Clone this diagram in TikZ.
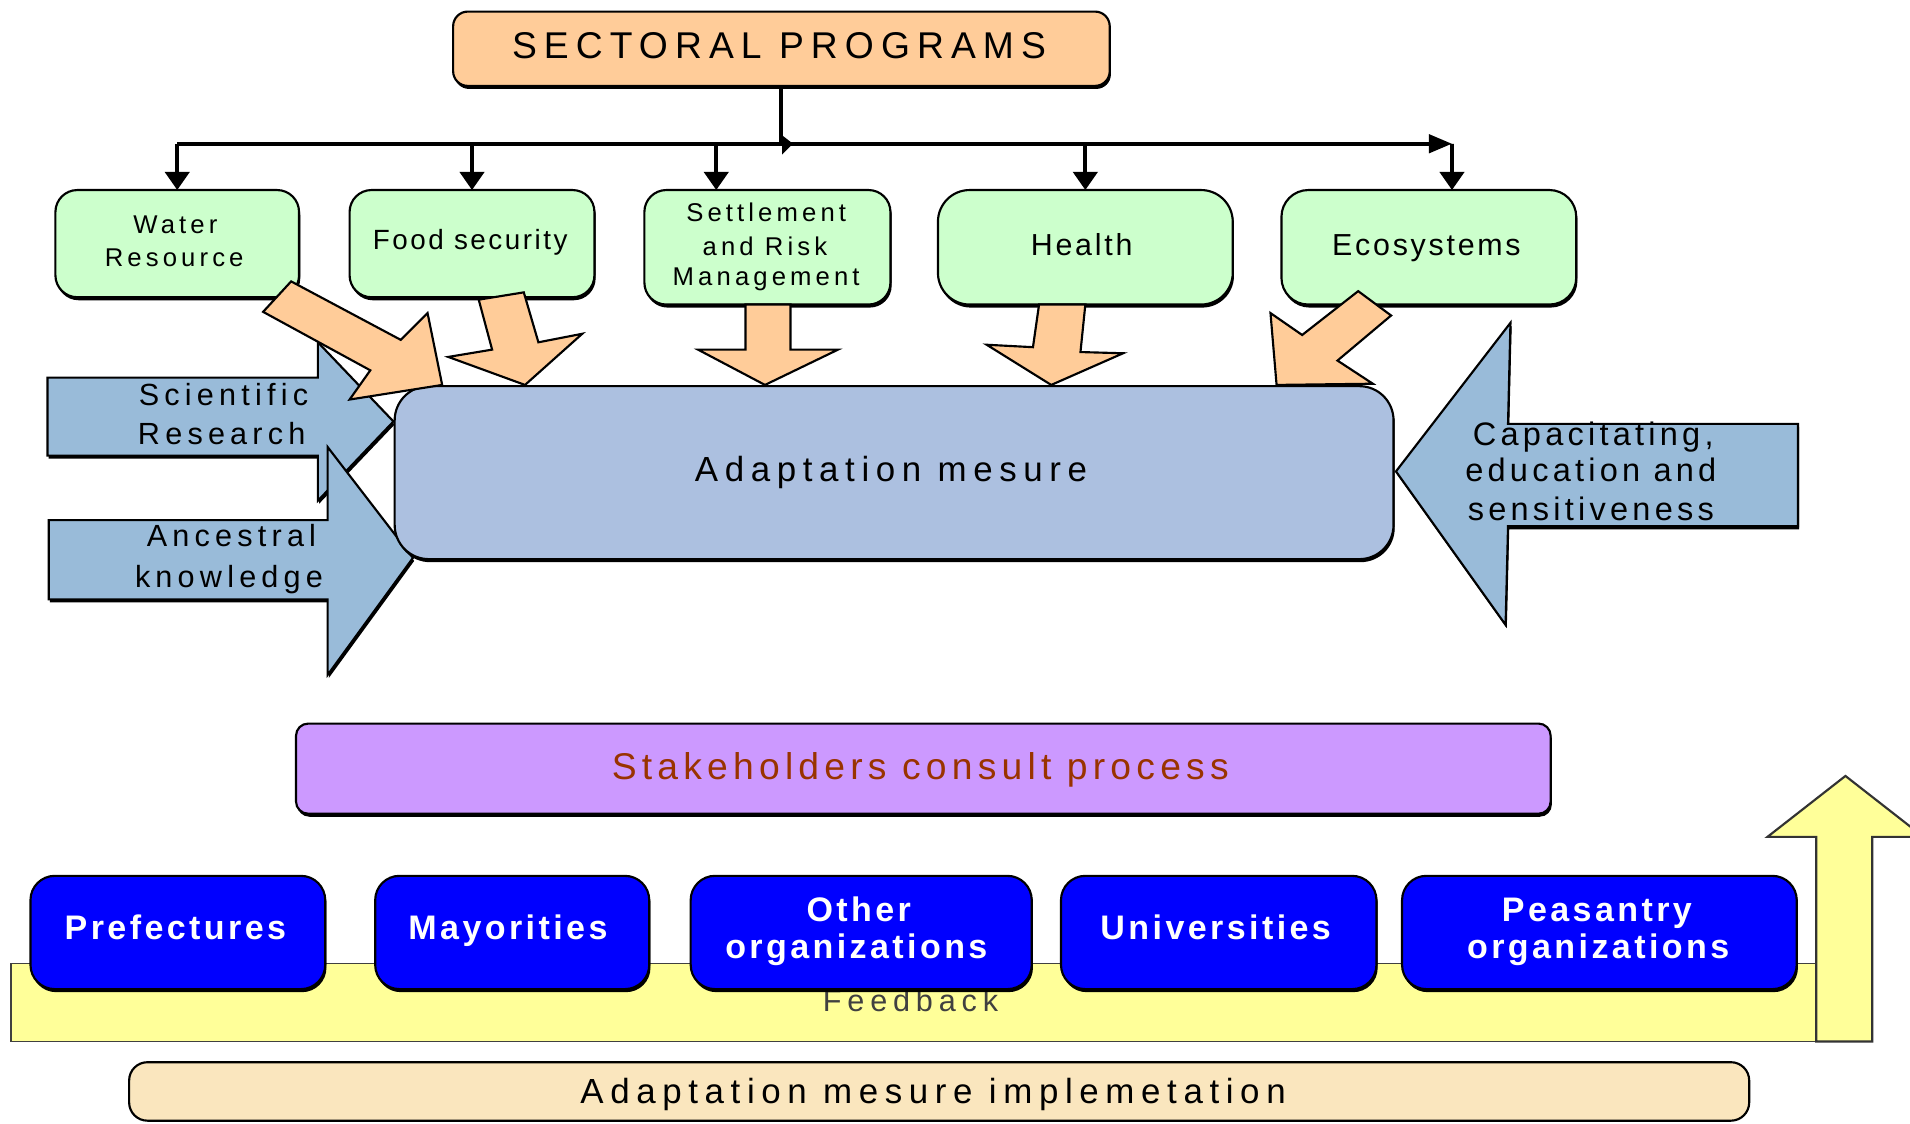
\documentclass[tikz,border=0pt]{standalone}
\usepackage{fontspec}
\setmainfont{Liberation Sans}
\newfontfamily\lsWide[LetterSpace=19]{Liberation Sans}
\newfontfamily\lsSide[LetterSpace=17]{Liberation Sans}
\newfontfamily\lsCap[LetterSpace=13]{Liberation Sans}
\newfontfamily\lsStake[LetterSpace=14]{Liberation Sans}
\newfontfamily\lsGreenA[LetterSpace=16]{Liberation Sans}
\newfontfamily\lsGreenB[LetterSpace=9]{Liberation Sans}
\newfontfamily\lsBold[LetterSpace=10]{Liberation Sans}
\usetikzlibrary{arrows.meta,shadows}
\definecolor{peach}{HTML}{FFCC99}
\definecolor{mint}{HTML}{CCFFCC}
\definecolor{adapt}{RGB}{172,192,224}
\definecolor{steel}{RGB}{153,187,217}
\definecolor{lilac}{HTML}{CC99FF}
\definecolor{brick}{HTML}{993300}
\definecolor{butter}{HTML}{FFFF99}
\definecolor{wheatc}{RGB}{250,230,190}
\begin{document}
\begin{tikzpicture}[x=0.1mm,y=-0.1mm,
  shad/.style={drop shadow={shadow xshift=0.1mm,shadow yshift=-0.25mm,fill=black,opacity=1}},
  edge/.style={draw=black,line width=0.5pt},
  boxn/.style={edge,shad,inner sep=0pt,outer sep=0pt},
  greenbox/.style={boxn,fill=mint,rounded corners=1.8mm},
  bluebox/.style={boxn,fill=blue,rounded corners=2mm,minimum height=9.3mm},
  blockpeach/.style={edge,fill=peach,line join=miter},
  blocksteel/.style={edge,fill=steel,shad,line join=miter},
  tree/.style={line width=0.9pt,draw=black},
  treetip/.style={-{Triangle[length=1.5mm,width=2mm]}},
  lbl/.style={anchor=base,inner sep=0pt,outer sep=0pt},
  fbig/.style={font=\lsWide\fontsize{8.7pt}{10pt}\selectfont},
  fadapt/.style={font=\lsWide\fontsize{8.15pt}{10pt}\selectfont},
  fside/.style={font=\lsSide\fontsize{7.15pt}{9pt}\selectfont},
  fcap/.style={font=\lsCap\fontsize{7.6pt}{9pt}\selectfont},
  fgreenA/.style={font=\lsGreenA\fontsize{6pt}{7pt}\selectfont},
  fgreenF/.style={font=\lsGreenB\fontsize{6.5pt}{7pt}\selectfont},
  fgreenB/.style={font=\lsGreenB\fontsize{7.1pt}{8pt}\selectfont},
  fblue/.style={font=\lsBold\bfseries\fontsize{7.95pt}{9pt}\selectfont,text=white},
]
\useasboundingbox (0,0) rectangle (1568,922);

% ---------- top box and green boxes ----------
\node[boxn,fill=peach,rounded corners=1.2mm,minimum width=53.9mm,minimum height=6.1mm] (sectoral) at (641.5,40) {};
\node[lbl,fbig] (sectoralT) at (639.5,48) {SECTORAL PROGRAMS};

\node[greenbox,minimum width=20mm,minimum height=8.8mm] (water) at (145.5,200) {};
\node[greenbox,minimum width=20.1mm,minimum height=8.8mm] (food) at (387.5,200) {};
\node[greenbox,minimum width=20.2mm,minimum height=9.4mm] (settle) at (630,203) {};
\node[greenbox,rounded corners=2.6mm,minimum width=24.2mm,minimum height=9.4mm] (health) at (891,203) {};
\node[greenbox,rounded corners=2.2mm,minimum width=24.2mm,minimum height=9.4mm] (eco) at (1173,203) {};

\node[lbl,fgreenA] (waterT1) at (144,191.5) {Water};
\node[lbl,fgreenA] (waterT2) at (143,219) {Resource};
\node[lbl,fgreenF] (foodT) at (386,205) {Food security};
\node[lbl,fgreenA] (settleT1) at (629,182) {Settlement};
\node[lbl,fgreenA] (settleT2) at (628,209.4) {and Risk};
\node[lbl,fgreenA] (settleT3) at (629,234) {Management};
\node[lbl,fgreenB] (healthT) at (888,209.4) {Health};
\node[lbl,fgreenB] (ecoT) at (1171,209.4) {Ecosystems};

% ---------- tree connectors ----------
\coordinate (busL) at (145.5,118);
\coordinate (busR) at (1192,118);
\coordinate (sdrop) at ([xshift=-4.2mm]settle.north);
\coordinate (edrop) at ([xshift=1.9mm]eco.north);
\draw[tree] (sectoral.south) -- (sectoral.south |- busL);
\fill (642,111) -- (651,118) -- (642,127) -- cycle;
\draw[tree] (busL) -- (sectoral.south |- busL);
\draw[tree,-{Triangle[length=1.9mm,width=1.5mm]}] (sectoral.south |- busL) -- (busR);
\draw[tree,treetip] (busL) -- (water.north);
\draw[tree,treetip] (food.north |- busL) -- (food.north);
\draw[tree,treetip] (sdrop |- busL) -- (sdrop);
\draw[tree,treetip] (health.north |- busL) -- (health.north);
\draw[tree,treetip] (busR) -- (edrop);

% ---------- side block arrows ----------
\draw[blocksteel] (39,310) -- (261,310) -- (261,281) -- (323,346) -- (261,411) -- (261,374) -- (39,374) -- cycle;
\draw[blocksteel] (40,427) -- (269,427) -- (269,367) -- (339,458) -- (269,554) -- (269,492) -- (40,492) -- cycle;
\draw[blocksteel] (1476,348) -- (1238,348) -- (1240,265) -- (1146,387) -- (1236,513) -- (1238,432) -- (1476,432) -- cycle;

% ---------- adaptation box ----------
\node[boxn,fill=adapt,rounded corners=2.8mm,minimum width=82mm,minimum height=14.2mm] (adapt) at (734,388) {};
\node[lbl,fadapt] (adaptT) at (731.5,395.5) {Adaptation mesure};

% ---------- peach block arrows ----------
\draw[blockpeach] (239,231) -- (329,279) -- (351,257) -- (363,316) -- (287,328) -- (304,304) -- (216,256) -- cycle;
\draw[blockpeach] (393,246) -- (430,240) -- (442,281) -- (478,274) -- (431,316) -- (368,293) -- (404,287) -- cycle;
\draw[blockpeach] (612,250) -- (649,250) -- (649,287) -- (688,287) -- (628,316) -- (573,287) -- (612,287) -- cycle;
\draw[blockpeach] (853,250) -- (891,250) -- (887,289) -- (922,290) -- (863,316) -- (810,283) -- (848,285) -- cycle;
\draw[blockpeach] (1115,239) -- (1142,259) -- (1098,296) -- (1127,315) -- (1048,316) -- (1043,257) -- (1069,275) -- cycle;

% side labels
\node[lbl,fside] (sciT1) at (183.5,332.5) {Scientific};
\node[lbl,fside] (sciT2) at (182,364.5) {Research};
\node[lbl,fside] (ancT1) at (190,448.8) {Ancestral};
\node[lbl,fside] (ancT2) at (188,482) {knowledge};
\node[lbl,fcap] (capT1) at (1308,365.4) {Capacitating,};
\node[lbl,fcap] (capT2) at (1306,395.5) {education and};
\node[lbl,fcap] (capT3) at (1306,427) {sensitiveness};

% ---------- stakeholders ----------
\node[boxn,fill=lilac,rounded corners=1mm,minimum width=103mm,minimum height=7.4mm] (stake) at (758,631) {};
\node[lbl,font=\lsStake\fontsize{8.7pt}{10pt}\selectfont,text=brick] (stakeT) at (755.5,640) {Stakeholders consult process};

% ---------- feedback band ----------
\node[draw=black!75,fill=butter,line width=0.4pt,inner sep=0pt,outer sep=0pt,minimum width=148.2mm,minimum height=6.4mm] (band) at (750,823) {};
\draw[draw=black!80,line width=0.5pt,fill=butter,line join=miter] (band.south east) -- (1537,855) -- (1537,687) -- (1579,687) -- (1515,637) -- (1451,687) -- (1491,687) -- cycle;
\node[lbl,font=\lsWide\fontsize{7.15pt}{9pt}\selectfont,text=black!75] (feedT) at (747.5,830.6) {Feedback};

% ---------- blue boxes ----------
\node[bluebox,minimum width=24.2mm] (pref) at (146,765.5) {};
\node[bluebox,minimum width=22.5mm] (mayor) at (420.5,765.5) {};
\node[bluebox,minimum width=28mm] (other) at (707,765.5) {};
\node[bluebox,minimum width=25.9mm] (univ) at (1000.5,765.5) {};
\node[bluebox,minimum width=32.4mm] (peas) at (1313,765.5) {};
\node[lbl,fblue] (prefT) at (144,771) {Prefectures};
\node[lbl,fblue] (mayorT) at (417,771) {Mayorities};
\node[lbl,fblue] (otherT1) at (705,756.7) {Other};
\node[lbl,fblue] (otherT2) at (703,786.6) {organizations};
\node[lbl,fblue] (univT) at (998,771) {Universities};
\node[lbl,fblue] (peasT1) at (1311,756.7) {Peasantry};
\node[lbl,fblue] (peasT2) at (1312,786.6) {organizations};

% ---------- implementation ----------
\node[edge,inner sep=0pt,outer sep=0pt,fill=wheatc,rounded corners=1.5mm,minimum width=133mm,minimum height=4.8mm] (impl) at (771,896) {};
\node[lbl,fadapt] (implT) at (766,905.6) {Adaptation mesure implemetation};
\end{tikzpicture}
\end{document}
